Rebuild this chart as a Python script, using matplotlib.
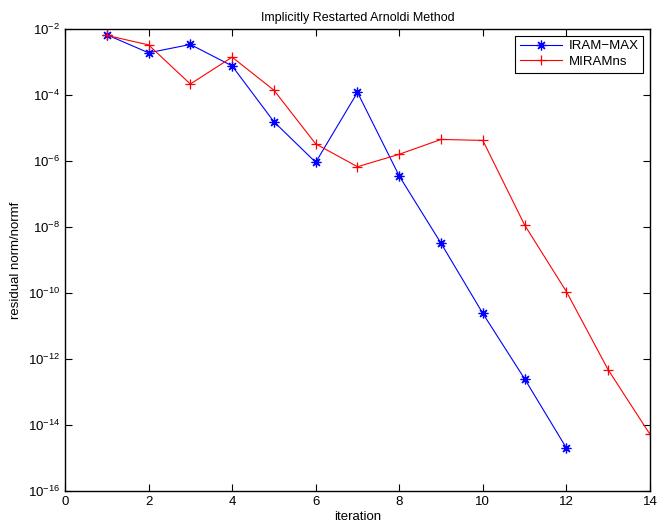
import numpy as np
import matplotlib
matplotlib.use("Agg")
import matplotlib.pyplot as plt
from matplotlib.ticker import NullLocator

plt.rcParams['font.family'] = ['Liberation Sans', 'DejaVu Sans']
plt.rcParams['mathtext.fontset'] = 'custom'
plt.rcParams['mathtext.rm'] = 'Liberation Sans'
plt.rcParams['mathtext.it'] = 'Liberation Sans:italic'

# residual norm / normf per iteration
iram_iter = [1, 2, 3, 4, 5, 6, 7, 8, 9, 10, 11, 12]
iram_res = [6.7e-3, 1.9e-3, 3.4e-3, 7.6e-4, 1.55e-5, 9.1e-7,
            1.2e-4, 3.5e-7, 3.2e-9, 2.4e-11, 2.5e-13, 2.0e-15]

miram_iter = [1, 2, 3, 4, 5, 6, 7, 8, 9, 10, 11, 12, 13, 14]
miram_res = [6.4e-3, 3.3e-3, 2.15e-4, 1.4e-3, 1.4e-4, 3.3e-6, 6.7e-7,
             1.6e-6, 4.5e-6, 4.2e-6, 1.15e-8, 1.1e-10, 4.7e-13, 5.2e-15]

xticks = [0, 2, 4, 6, 8, 10, 12, 14]
yticks = [1e-16, 1e-14, 1e-12, 1e-10, 1e-8, 1e-6, 1e-4, 1e-2]

fig = plt.figure(figsize=(6.57, 5.32), dpi=100)
ax = fig.add_axes([0.0989, 0.0771, 0.8904, 0.8684])

# matlab-style asterisk: plus and cross overlaid
ax.semilogy(iram_iter, iram_res, color='blue', marker=(8, 2, 0), markersize=7,
            markeredgewidth=0.9, linewidth=0.8, label='IRAM\u2212MAX')
ax.semilogy(miram_iter, miram_res, color='red', marker='+', markersize=7,
            markeredgewidth=0.9, linewidth=0.8, label='MIRAMns')

ax.set_xlim(0, 14)
ax.set_ylim(1e-16, 1e-2)
ax.set_xticks(xticks)
ax.set_yticks(yticks)
ax.yaxis.set_minor_locator(NullLocator())
ax.tick_params(direction='in', top=True, right=True, length=5, width=0.8,
               labelsize=9.5)
for s in ax.spines.values():
    s.set_linewidth(1.0)

ax.set_title('Implicitly Restarted Arnoldi Method', fontsize=9)
ax.set_xlabel('iteration', fontsize=9.5, labelpad=2)
ax.set_ylabel('residual norm/normf', fontsize=9.5)

leg = ax.legend(loc='upper right', fontsize=9.5, fancybox=False,
                edgecolor='black', framealpha=1, borderaxespad=0.5,
                handlelength=3.2, handletextpad=0.5, labelspacing=0.25,
                borderpad=0.35)
leg.get_frame().set_linewidth(0.8)

fig.savefig('out.png', dpi=100)
